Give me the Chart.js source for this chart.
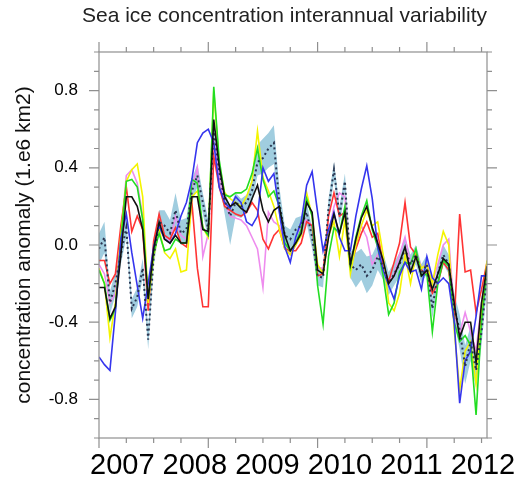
<!DOCTYPE html>
<html lang="en">
<head>
    <meta charset="UTF-8">
    <title>Sea ice concentration interannual variability</title>
    <script src="https://cdn.jsdelivr.net/npm/chart.js"></script>
    <style>
        html, body {
            margin: 0;
            padding: 0;
            background: #fff;
        }
        #wrap {
            width: 524px;
            height: 486px;
        }
    </style>
</head>
<body>

<div id="wrap"><canvas id="iceChart" width="524" height="486"></canvas></div>

<script>
    // x = months since Jan 2007 (monthly anomalies, 1.e6 km2)
    const months = Array.from({ length: 72 }, (_, i) => i);
    const yearLabels = ['2007', '2008', '2009', '2010', '2011', '2012'];
    const yTickValues = [-0.8, -0.4, 0.0, 0.4, 0.8];

    const blackSeries = [-0.22, -0.22, -0.38, -0.32, -0.05, 0.25, 0.25, 0.20, 0.08, -0.28, -0.02, 0.12,
        0.03, 0.01, 0.05, 0.01, 0.01, 0.25, 0.25, 0.08, 0.07, 0.65, 0.41, 0.25,
        0.20, 0.22, 0.19, 0.17, 0.24, 0.31, 0.18, 0.12, 0.18, 0.20, 0.05, -0.03,
        0.01, 0.06, 0.22, 0.17, -0.13, -0.15, 0.04, 0.16, 0.06, 0.17, -0.10, 0.03,
        0.14, 0.20, 0.09, 0.01, -0.08, -0.20, -0.16, -0.09, -0.01, -0.14, -0.06, -0.16,
        -0.13, -0.23, -0.15, -0.07, -0.10, -0.30, -0.48, -0.40, -0.40, -0.61, -0.30, -0.11];

    const greenSeries = [-0.13, -0.20, -0.39, -0.33, 0.03, 0.33, 0.34, 0.30, 0.13, -0.28, -0.04, 0.06,
        -0.03, -0.02, 0.03, 0.01, 0.01, 0.34, 0.32, 0.09, 0.05, 0.82, 0.44, 0.26,
        0.25, 0.27, 0.27, 0.29, 0.37, 0.50, 0.34, 0.25, 0.28, 0.20, 0.01, -0.03,
        0.01, 0.08, 0.24, 0.15, -0.21, -0.41, -0.06, 0.09, 0.06, 0.20, -0.11, 0.04,
        0.15, 0.23, 0.08, -0.01, -0.16, -0.36, -0.30, -0.14, -0.09, -0.10, -0.02, -0.16,
        -0.15, -0.45, -0.20, -0.08, -0.11, -0.40, -0.50, -0.47, -0.52, -0.88, -0.40, -0.12];

    const yellowSeries = [-0.12, -0.20, -0.48, -0.30, 0.05, 0.33, 0.39, 0.42, 0.25, -0.30, -0.06, 0.08,
        -0.04, -0.07, -0.02, -0.14, -0.13, 0.25, 0.28, 0.09, 0.04, 0.80, 0.42, 0.27,
        0.24, 0.22, 0.20, 0.25, 0.33, 0.59, 0.35, 0.28, 0.20, 0.08, -0.02, -0.05,
        0.00, 0.05, 0.27, 0.15, -0.10, -0.15, 0.05, 0.12, -0.06, 0.13, -0.15, 0.00,
        0.10, 0.18, 0.10, 0.12, -0.05, -0.30, -0.34, -0.25, -0.05, -0.20, -0.05, -0.12,
        -0.10, -0.20, -0.05, 0.07, 0.00, -0.44, -0.75, -0.55, -0.50, -0.72, -0.35, -0.08];

    const redSeries = [-0.08, -0.08, -0.20, -0.15, 0.10, 0.30, 0.07, 0.15, 0.08, -0.34, 0.02, 0.16,
        0.05, 0.03, 0.09, 0.01, -0.01, 0.22, -0.12, -0.32, -0.32, 0.46, 0.30, 0.20,
        0.18, 0.16, 0.15, 0.17, 0.22, 0.18, 0.03, -0.02, 0.05, 0.08, -0.02, -0.03,
        -0.03, 0.01, 0.12, 0.10, -0.16, -0.15, 0.15, 0.27, 0.15, 0.17, -0.11, -0.02,
        0.06, 0.12, 0.04, 0.06, -0.10, -0.19, -0.09, 0.01, 0.22, -0.01, -0.05, -0.13,
        -0.15, -0.25, -0.20, -0.09, -0.13, -0.40, 0.16, -0.14, -0.13, -0.35, -0.23, -0.09];

    const blueSeries = [-0.58, -0.62, -0.65, -0.35, 0.03, 0.16, -0.04, -0.21, -0.38, -0.20, -0.01, 0.10,
        0.03, 0.01, 0.06, 0.15, 0.22, 0.34, 0.53, 0.58, 0.60, 0.53, 0.30, 0.22,
        0.19, 0.25, 0.22, 0.12, 0.10, 0.15, 0.40, 0.33, 0.37, 0.17, -0.01, -0.09,
        0.04, 0.12, 0.31, 0.38, 0.17, -0.03, 0.08, 0.17, 0.04, -0.03, -0.03, 0.15,
        0.29, 0.41, 0.24, -0.01, -0.13, -0.21, -0.28, -0.16, -0.09, -0.14, -0.13, -0.23,
        -0.06, -0.17, -0.20, -0.17, -0.20, -0.40, -0.82, -0.60, -0.55, -0.37, -0.16, -0.16];

    const violetSeries = [-0.10, -0.15, -0.30, -0.25, 0.05, 0.36, 0.39, 0.32, 0.15, -0.30, 0.00, 0.10,
        0.05, 0.02, 0.15, 0.05, 0.03, 0.30, 0.40, -0.06, 0.06, 0.55, 0.35, 0.22,
        0.15, 0.14, 0.13, 0.10, 0.04, -0.02, -0.22, 0.17, 0.12, 0.10, 0.00, -0.05,
        0.00, 0.10, 0.13, 0.10, -0.12, -0.12, 0.05, 0.20, 0.27, 0.25, -0.08, 0.00,
        0.10, 0.04, -0.10, -0.05, -0.10, -0.20, -0.15, -0.05, 0.04, -0.10, -0.03, -0.12,
        -0.10, -0.20, -0.10, 0.00, 0.03, -0.35, -0.46, -0.35, -0.45, -0.55, -0.30, -0.10];

    // observed anomaly (dotted) and its spread (shaded)
    const obsSeries = [-0.02, 0.04, -0.30, -0.20, -0.05, 0.09, -0.33, -0.27, -0.12, -0.49, -0.06, 0.12,
        0.10, 0.06, 0.18, 0.06, 0.08, 0.28, 0.36, 0.22, 0.08, 0.60, 0.38, 0.23,
        0.15, 0.22, 0.20, 0.22, 0.28, 0.43, 0.45, 0.50, 0.53, 0.22, 0.05, 0.03,
        0.08, 0.10, 0.17, 0.04, -0.16, -0.17, 0.19, 0.39, 0.15, 0.33, -0.10, -0.13,
        -0.10, -0.16, -0.13, -0.06, -0.11, -0.20, -0.15, -0.10, -0.02, -0.10, -0.05, -0.15,
        -0.10, -0.33, -0.15, -0.05, -0.10, -0.33, -0.44, -0.63, -0.50, -0.65, -0.45, -0.15];

    const obsUpper = [0.06, 0.12, -0.24, -0.14, 0.00, 0.14, -0.28, -0.22, -0.07, -0.43, -0.01, 0.18,
        0.18, 0.13, 0.27, 0.13, 0.14, 0.34, 0.42, 0.27, 0.13, 0.65, 0.43, 0.28,
        0.20, 0.27, 0.24, 0.26, 0.34, 0.52, 0.55, 0.58, 0.62, 0.30, 0.10, 0.08,
        0.14, 0.15, 0.22, 0.09, -0.11, -0.12, 0.24, 0.43, 0.20, 0.37, -0.03, -0.04,
        -0.02, -0.06, -0.05, 0.01, -0.04, -0.14, -0.09, -0.04, 0.04, -0.05, 0.00, -0.10,
        -0.05, -0.27, -0.10, 0.00, -0.05, -0.25, -0.36, -0.52, -0.42, -0.55, -0.36, -0.08];

    const obsLower = [-0.10, -0.04, -0.36, -0.26, -0.10, 0.04, -0.38, -0.32, -0.17, -0.54, -0.11, 0.07,
        0.04, 0.00, 0.10, 0.00, 0.01, 0.22, 0.30, 0.16, 0.03, 0.55, 0.33, 0.16,
        0.00, 0.15, 0.14, 0.17, 0.22, 0.36, 0.37, 0.40, 0.42, 0.14, -0.01, -0.03,
        0.02, 0.04, 0.11, -0.02, -0.21, -0.22, 0.14, 0.34, 0.10, 0.28, -0.17, -0.22,
        -0.18, -0.25, -0.21, -0.13, -0.18, -0.26, -0.21, -0.16, -0.08, -0.15, -0.10, -0.20,
        -0.15, -0.38, -0.20, -0.10, -0.15, -0.40, -0.54, -0.72, -0.60, -0.74, -0.52, -0.22];

    const FONT = "'Liberation Sans', Arial, Helvetica, sans-serif";

    function toPoints(values) {
        return values.map((v, i) => ({ x: months[i], y: v }));
    }

    function lineSet(values, color, extra) {
        return Object.assign({
            data: toPoints(values),
            borderColor: color,
            borderWidth: 1.6,
            pointRadius: 0,
            fill: false
        }, extra || {});
    }

    // first dataset is drawn on top
    const datasets = [
        lineSet(blackSeries, '#111111'),
        lineSet(obsSeries, '#2a3550', { borderWidth: 2, borderDash: [2, 3] }),
        lineSet(blueSeries, '#3535ee'),
        lineSet(greenSeries, '#22dd22'),
        lineSet(yellowSeries, '#f4f400'),
        lineSet(redSeries, '#ff3333'),
        lineSet(violetSeries, '#ee8cee'),
        lineSet(obsUpper, 'rgba(0,0,0,0)', { borderWidth: 0, fill: '+1', backgroundColor: '#a0cddf' }),
        lineSet(obsLower, 'rgba(0,0,0,0)', { borderWidth: 0 })
    ];

    // frame with outward tick marks on all four sides, plus the year string
    // which (as in the original NCL plot) is not tied to the tick marks
    const frameTicks = {
        id: 'frameTicks',
        afterDatasetsDraw(chart) {
            const { ctx, chartArea: a, scales } = chart;
            const xs = scales.x, ys = scales.y;
            ctx.save();
            ctx.strokeStyle = '#8f8f8f';
            ctx.lineWidth = 1.2;
            ctx.strokeRect(a.left, a.top, a.right - a.left, a.bottom - a.top);
            ctx.beginPath();
            for (let m = 0; m <= 70; m += 5) {
                const px = xs.getPixelForValue(m);
                const len = m % 20 === 0 ? 10 : 5;
                ctx.moveTo(px, a.bottom); ctx.lineTo(px, a.bottom + len);
                ctx.moveTo(px, a.top); ctx.lineTo(px, a.top - len);
            }
            for (let k = -10; k <= 10; k++) {
                const py = ys.getPixelForValue(k / 10);
                const len = k % 4 === 0 ? 10 : 5;
                ctx.moveTo(a.left, py); ctx.lineTo(a.left - len, py);
                ctx.moveTo(a.right, py); ctx.lineTo(a.right + len, py);
            }
            ctx.stroke();

            ctx.fillStyle = '#000';
            ctx.font = '29px ' + FONT;
            ctx.textAlign = 'left';
            ctx.textBaseline = 'middle';
            ctx.fillText(yearLabels.join(' '), a.left - 9, a.bottom + 28);
            ctx.restore();
        }
    };

    new Chart(document.getElementById('iceChart'), {
        type: 'line',
        data: { datasets: datasets },
        options: {
            responsive: false,
            animation: false,
            layout: { padding: { left: 45, right: 0, top: 0, bottom: 0 } },
            elements: { line: { tension: 0 } },
            plugins: {
                legend: { display: false },
                tooltip: { enabled: false },
                title: {
                    display: true,
                    text: 'Sea ice concentration interannual variability',
                    color: '#222',
                    font: { family: FONT, size: 21, weight: 'normal' },
                    padding: { top: 4, bottom: 22.8 }
                }
            },
            scales: {
                x: {
                    type: 'linear',
                    min: 0,
                    max: 71,
                    grid: { display: false, drawTicks: false },
                    border: { display: false },
                    ticks: { display: false },
                    afterFit(scale) { scale.height = 48; }
                },
                y: {
                    min: -1,
                    max: 1,
                    afterBuildTicks(scale) {
                        scale.ticks = yTickValues.map(v => ({ value: v }));
                    },
                    grid: { display: false, drawTicks: false },
                    border: { display: false },
                    ticks: {
                        padding: 21,
                        color: '#000',
                        font: { family: FONT, size: 17 },
                        callback: v => v.toFixed(1)
                    },
                    title: {
                        display: true,
                        text: 'concentration anomaly (1.e6 km2)',
                        color: '#111',
                        font: { family: FONT, size: 21 },
                        padding: { top: -33, bottom: 0 }
                    },
                    afterFit(scale) { scale.width = 54; }
                },
                yRight: {
                    position: 'right',
                    min: -1,
                    max: 1,
                    grid: { display: false, drawTicks: false },
                    border: { display: false },
                    ticks: { display: false },
                    afterFit(scale) { scale.width = 37; }
                }
            }
        },
        plugins: [frameTicks]
    });
</script>

</body>
</html>
